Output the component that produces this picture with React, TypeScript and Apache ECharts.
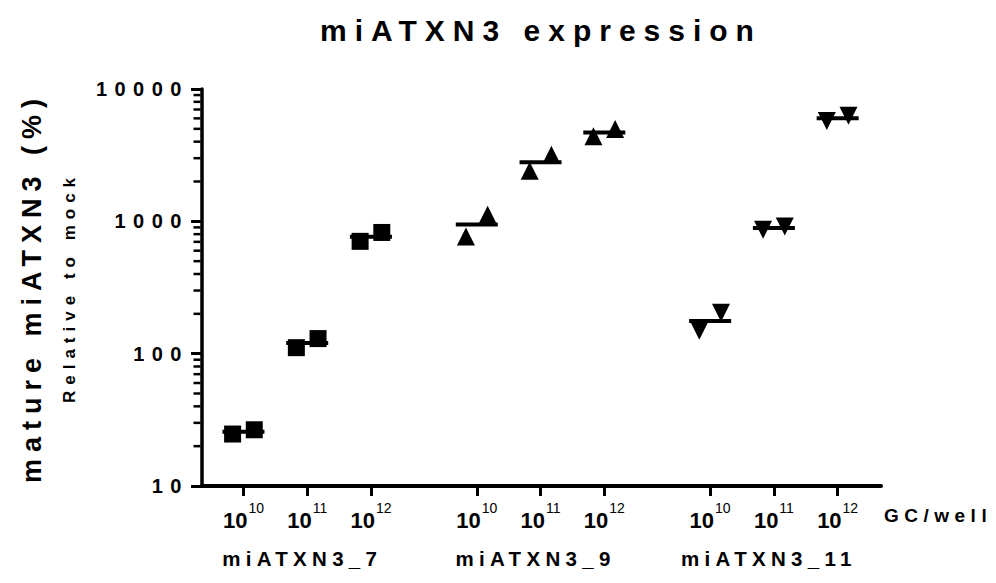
import React, { useEffect, useRef } from 'react';
import * as echarts from 'echarts';

// ---- data ----
const groupNames = ['miATXN3_7', 'miATXN3_9', 'miATXN3_11'];
const doseExponents = ['10', '11', '12'];
const yTickLabels = ['10', '100', '1000', '10000'];
const minorTickValues = [
  20, 30, 40, 50, 60, 70, 80, 90,
  200, 300, 400, 500, 600, 700, 800, 900,
  2000, 3000, 4000, 5000, 6000, 7000, 8000, 9000,
];
// replicate values per dose (10^10, 10^11, 10^12)
const mi7Rep1 = [24.7, 111, 706];
const mi7Rep2 = [26.6, 130, 824];
const mi9Rep1 = [769, 2415, 4395];
const mi9Rep2 = [1122, 3187, 4988];
const mi11Rep1 = [149, 864, 5728];
const mi11Rep2 = [204, 915, 6285];

const FONT = "'Liberation Sans Narrow', 'Liberation Sans', Arial, sans-serif";

// x layout (in dose-slot units)
const X_MIN = 0;
const X_MAX = 10.65;
const FIRST_TICK = 0.65;
const GROUP_STEP = 3.66;
const REP_SHIFT = 0.17;

const tickPositions: number[] = [];
groupNames.forEach((_, gi) =>
  doseExponents.forEach((_, di) => tickPositions.push(FIRST_TICK + gi * GROUP_STEP + di))
);
const groupCenters = groupNames.map((_, gi) => FIRST_TICK + gi * GROUP_STEP + 1);

const indexOf = (arr: number[], v: number) => {
  let best = 0;
  arr.forEach((p, i) => {
    if (Math.abs(p - v) < Math.abs(arr[best] - v)) best = i;
  });
  return best;
};

const groupsData = [
  { rep1: mi7Rep1, rep2: mi7Rep2, symbol: 'rect', rotate: 0, size: 17 },
  { rep1: mi9Rep1, rep2: mi9Rep2, symbol: 'triangle', rotate: 0, size: 18 },
  { rep1: mi11Rep1, rep2: mi11Rep2, symbol: 'triangle', rotate: 180, size: 18 },
];

export default function App() {
  const ref = useRef<HTMLDivElement>(null);
  useEffect(() => {
    if (!ref.current) return;
    const chart = echarts.init(ref.current, null, { renderer: 'svg' });

    const series: any[] = [];
    groupsData.forEach((g, gi) => {
      const pts: number[][] = [];
      const means: number[][] = [];
      doseExponents.forEach((_, di) => {
        const x = tickPositions[gi * 3 + di];
        pts.push([x - REP_SHIFT, g.rep1[di]]);
        pts.push([x + REP_SHIFT, g.rep2[di]]);
        means.push([x, (g.rep1[di] + g.rep2[di]) / 2]);
      });
      series.push({
        type: 'scatter',
        name: groupNames[gi],
        data: pts,
        symbol: g.symbol,
        symbolRotate: g.rotate,
        symbolSize: g.size,
        itemStyle: { color: '#000', opacity: 1 },
        z: 3,
      });
      series.push({
        type: 'scatter',
        name: groupNames[gi] + ' mean',
        data: means,
        symbol: 'rect',
        symbolSize: [42, 4],
        itemStyle: { color: '#000', opacity: 1 },
        z: 4,
      });
    });

    // minor log ticks on the y axis
    series.push({
      type: 'scatter',
      name: 'minor ticks',
      silent: true,
      clip: false,
      data: minorTickValues.map((v) => [X_MIN, v]),
      symbol: 'rect',
      symbolSize: [7, 2.5],
      symbolOffset: [-5, 0],
      itemStyle: { color: '#000', opacity: 1 },
      z: 2,
    });

    chart.setOption({
      animation: false,
      backgroundColor: '#fff',
      title: {
        text: 'miATXN3 expression',
        left: 536,
        top: 10,
        textAlign: 'center',
        textStyle: { fontFamily: FONT, fontWeight: 'bold', fontSize: 30, color: '#000' },
      },
      grid: { left: 202, right: 115, top: 89, bottom: 97 },
      xAxis: [
        {
          type: 'value',
          min: X_MIN,
          max: X_MAX,
          splitLine: { show: false },
          axisLine: { lineStyle: { color: '#000', width: 4 } },
          axisTick: { customValues: tickPositions, length: 10, lineStyle: { color: '#000', width: 3 } },
          axisLabel: {
            customValues: tickPositions,
            margin: 15,
            formatter: (v: number) => `{b|10}{s|${doseExponents[indexOf(tickPositions, v) % 3]}}`,
            rich: {
              b: { fontFamily: FONT, fontWeight: 'bold', fontSize: 22, color: '#000', lineHeight: 30, verticalAlign: 'bottom' },
              s: { fontFamily: FONT, fontSize: 14, color: '#000', lineHeight: 16, verticalAlign: 'top', padding: [0, 0, 0, 1] },
            },
          },
        },
        {
          type: 'value',
          min: X_MIN,
          max: X_MAX,
          position: 'bottom',
          offset: 56,
          splitLine: { show: false },
          axisLine: { show: false },
          axisTick: { show: false },
          axisLabel: {
            customValues: groupCenters,
            margin: 6,
            padding: [0, 10, 0, 0],
            fontFamily: FONT,
            fontWeight: 'bold',
            fontSize: 20.5,
            color: '#000',
            formatter: (v: number) => groupNames[indexOf(groupCenters, v)],
          },
        },
      ],
      yAxis: [
        {
          type: 'log',
          logBase: 10,
          min: 10,
          max: 10000,
          name: 'mature miATXN3 (%)',
          nameLocation: 'middle',
          nameRotate: 90,
          nameGap: 157,
          nameTextStyle: { fontFamily: FONT, fontWeight: 'bold', fontSize: 27, color: '#000' },
          splitLine: { show: false },
          axisLine: { lineStyle: { color: '#000', width: 3.5 } },
          axisTick: { length: 11, lineStyle: { color: '#000', width: 3 } },
          axisLabel: {
            margin: 13,
            fontFamily: FONT,
            fontWeight: 'bold',
            fontSize: 20,
            color: '#000',
            formatter: (v: number) => yTickLabels[Math.round(Math.log10(v)) - 1] ?? String(v),
          },
        },
        {
          type: 'log',
          logBase: 10,
          min: 10,
          max: 10000,
          position: 'left',
          name: 'Relative to mock',
          nameLocation: 'middle',
          nameRotate: 90,
          nameGap: 124,
          nameTextStyle: { fontFamily: FONT, fontWeight: 'bold', fontSize: 17, color: '#000' },
          splitLine: { show: false },
          axisLine: { show: false },
          axisLabel: { show: false },
          axisTick: { show: false },
        },
      ],
      graphic: [
        {
          type: 'text',
          left: 884,
          top: 506,
          style: { text: 'GC/well', fontFamily: FONT, fontWeight: 'bold', fontSize: 19, fill: '#000' },
        },
      ],
      series,
    });
    return () => chart.dispose();
  }, []);

  return (
    <>
      <style>{`
        .chart-box text[style*="30px"] { letter-spacing: 8px; }
        .chart-box text[style*="27px"] { letter-spacing: 7px; }
        .chart-box text[style*="17px"] { letter-spacing: 6px; }
        .chart-box text[style*="20px"] { letter-spacing: 7.5px; }
        .chart-box text[style*="20.5px"] { letter-spacing: 5.3px; }
        .chart-box text[style*="19px"] { letter-spacing: 5.5px; }
      `}</style>
      <div
        ref={ref}
        className="chart-box"
        style={{ position: 'fixed', left: 0, top: 0, width: 996, height: 583 }}
      />
    </>
  );
}
